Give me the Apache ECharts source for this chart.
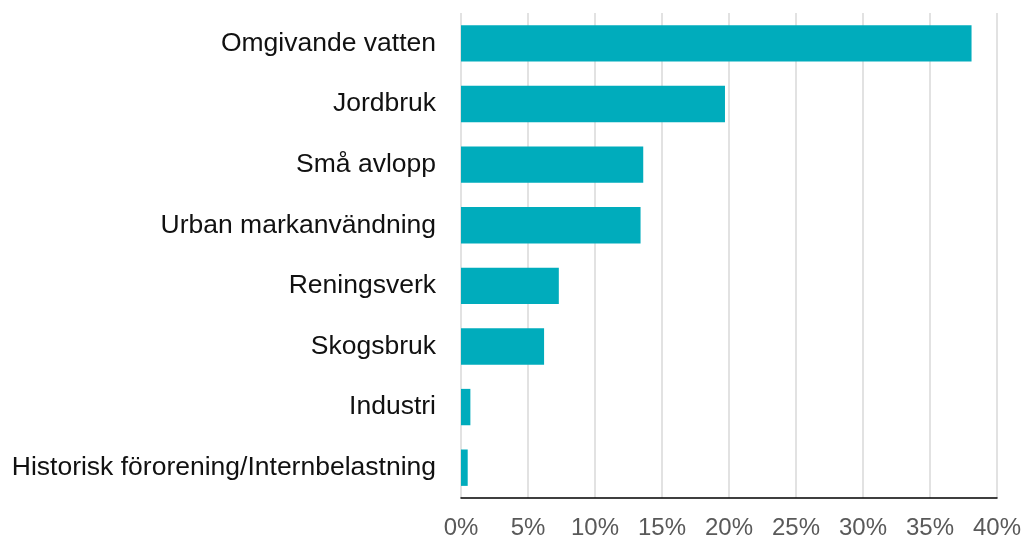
<!DOCTYPE html>
<html>
<head>
<meta charset="utf-8">
<script src="https://cdn.jsdelivr.net/npm/echarts@6/dist/echarts.min.js"></script>
<style>
  html, body { margin: 0; padding: 0; background: #fff; }
  #chart { width: 1026px; height: 542px; }
</style>
</head>
<body>
<div id="chart"></div>
<script>
// kategorier och andelar (%)
const categories = [
    'Omgivande vatten',
    'Jordbruk',
    'Små avlopp',
    'Urban markanvändning',
    'Reningsverk',
    'Skogsbruk',
    'Industri',
    'Historisk förorening/Internbelastning'
];
const shares = [38.1, 19.7, 13.6, 13.4, 7.3, 6.2, 0.7, 0.5];
const tickMax = 40;
const tickStep = 5;

const chart = echarts.init(document.getElementById('chart'));

chart.setOption({
    animation: false,
    textStyle: { fontFamily: '"Liberation Sans", Arial, sans-serif' },
    grid: { left: 461, right: 29, top: 13, bottom: 44, containLabel: false },
    xAxis: {
        type: 'value',
        min: 0,
        max: tickMax,
        interval: tickStep,
        axisLine: { show: true, lineStyle: { color: '#000', width: 1.5 } },
        axisTick: { show: false },
        axisLabel: {
            formatter: v => v + '%',
            color: '#595959',
            fontSize: 24,
            margin: 18
        },
        splitLine: { show: true, lineStyle: { color: '#d9d9d9', width: 1.5 } }
    },
    yAxis: {
        type: 'category',
        data: categories,
        inverse: true,
        axisLine: { show: false },
        axisTick: { show: false },
        axisLabel: { color: '#111', fontSize: 26.5, margin: 25 }
    },
    series: [{
        type: 'bar',
        data: shares,
        barWidth: '60%',
        itemStyle: { color: '#00acbc' }
    }]
});
</script>
</body>
</html>
